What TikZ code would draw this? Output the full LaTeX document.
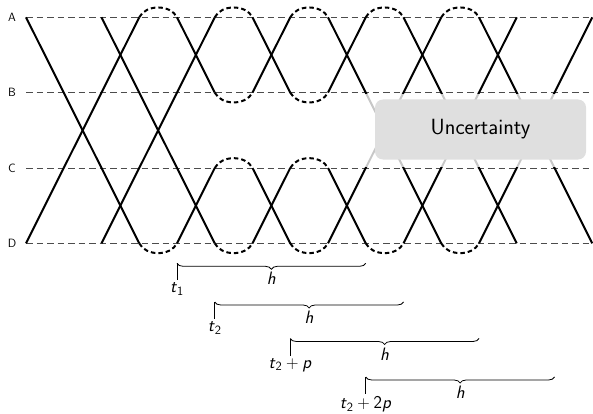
\documentclass[tikz,border=0pt]{standalone}
\usepackage{amsmath}
\usetikzlibrary{decorations.pathreplacing}
\newcommand{\sv}[1]{\textsf{\textit{#1}}}
\def\yA{-17.3}\def\yB{-92.6}\def\yC{-168}\def\yD{-243.3}
\newcommand{\seg}[4]{\pgfmathsetmacro\xsa{26+37.75*#1}\pgfmathsetmacro\xsb{26+37.75*#3}%
  \draw[traj] (\xsa,#2) -- (\xsb,#4);}
\newcommand{\bup}[2]{\pgfmathsetmacro\xsa{26+37.75*#1}\pgfmathsetmacro\xsb{26+37.75*(#1+1)}%
  \draw[bump] (\xsa,#2) .. controls +(6.6,13.1) and +(-6.6,13.1) .. (\xsb,#2);}
\newcommand{\bdn}[2]{\pgfmathsetmacro\xsa{26+37.75*#1}\pgfmathsetmacro\xsb{26+37.75*(#1+1)}%
  \draw[bump] (\xsa,#2) .. controls +(6.6,-13.1) and +(-6.6,-13.1) .. (\xsb,#2);}
\newcommand{\hbrace}[4]{\pgfmathsetmacro\xsa{26+37.75*#1}\pgfmathsetmacro\xsb{26+37.75*(#1+5)}%
  \pgfmathsetmacro\ysb{#2-17}%
  \draw[thin line] (\xsa,#2) -- (\xsa,\ysb) node[mlabel,below,inner sep=2.2pt] {#3};
  \draw[thin line,decorate,decoration={brace,mirror,amplitude=6pt}]
    (\xsa,#2) -- (\xsb,#2) node[mlabel,midway,below=6pt,inner sep=2.8pt] {#4};}
\begin{document}
\begin{tikzpicture}[x=1pt,y=1pt,
  traj/.style={line width=2pt},
  bump/.style={line width=2pt,dash pattern=on 4.5pt off 3pt},
  levelline/.style={line width=0.8pt,dash pattern=on 6.5pt off 4pt,black!70},
  lvl/.style={font=\sffamily\fontsize{12}{14}\selectfont},
  thin line/.style={line width=0.8pt},
  mlabel/.style={font=\sffamily\fontsize{18}{21}\selectfont},
  uncbox/.style={fill=gray!25,rounded corners=8pt,minimum width=211pt,minimum height=60pt,
    font=\sffamily\fontsize{22}{26}\selectfont}]
\useasboundingbox (0,0) rectangle (593,-414);
% levels
\foreach \n/\y in {A/\yA,B/\yB,C/\yC,D/\yD}{
  \node[lvl] (lab\n) at (12,\y) {\n};
  \draw[levelline] (26,\y) -- (593,\y);
}
% trajectory 1
\seg{0}{\yA}{3}{\yD}\bdn{3}{\yD}\seg{4}{\yD}{5}{\yC}\bup{5}{\yC}\seg{6}{\yC}{7}{\yD}\bdn{7}{\yD}
\seg{8}{\yD}{11}{\yA}\bup{11}{\yA}\seg{12}{\yA}{15}{\yD}
% trajectory 2
\seg{0}{\yD}{3}{\yA}\bup{3}{\yA}\seg{4}{\yA}{5}{\yB}\bdn{5}{\yB}\seg{6}{\yB}{7}{\yA}\bup{7}{\yA}
\seg{8}{\yA}{11}{\yD}\bdn{11}{\yD}\seg{12}{\yD}{15}{\yA}
% trajectory 3
\seg{2}{\yA}{5}{\yD}\bdn{5}{\yD}\seg{6}{\yD}{7}{\yC}\bup{7}{\yC}\seg{8}{\yC}{9}{\yD}\bdn{9}{\yD}
\seg{10}{\yD}{13}{\yA}
% trajectory 4
\seg{2}{\yD}{5}{\yA}\bup{5}{\yA}\seg{6}{\yA}{7}{\yB}\bdn{7}{\yB}\seg{8}{\yB}{9}{\yA}\bup{9}{\yA}
\seg{10}{\yA}{13}{\yD}
% uncertainty veil
\fill[white,opacity=0.78] (350,-93.9) rectangle (593,-166.7);
\node[uncbox] (unc) at (480.5,-129.5) {Uncertainty};
% horizons
\hbrace{4}{-263.3}{\sv{t}$_{\textsf{1}}$}{\sv{h}}
\hbrace{5}{-302}{\sv{t}$_{\textsf{2}}$}{\sv{h}}
\hbrace{7}{-338.5}{\sv{t}$_{\textsf{2}}+{}$\sv{p}}{\sv{h}}
\hbrace{9}{-377}{\sv{t}$_{\textsf{2}}+{}$\textsf{2}\sv{p}}{\sv{h}}
\end{tikzpicture}
\end{document}
